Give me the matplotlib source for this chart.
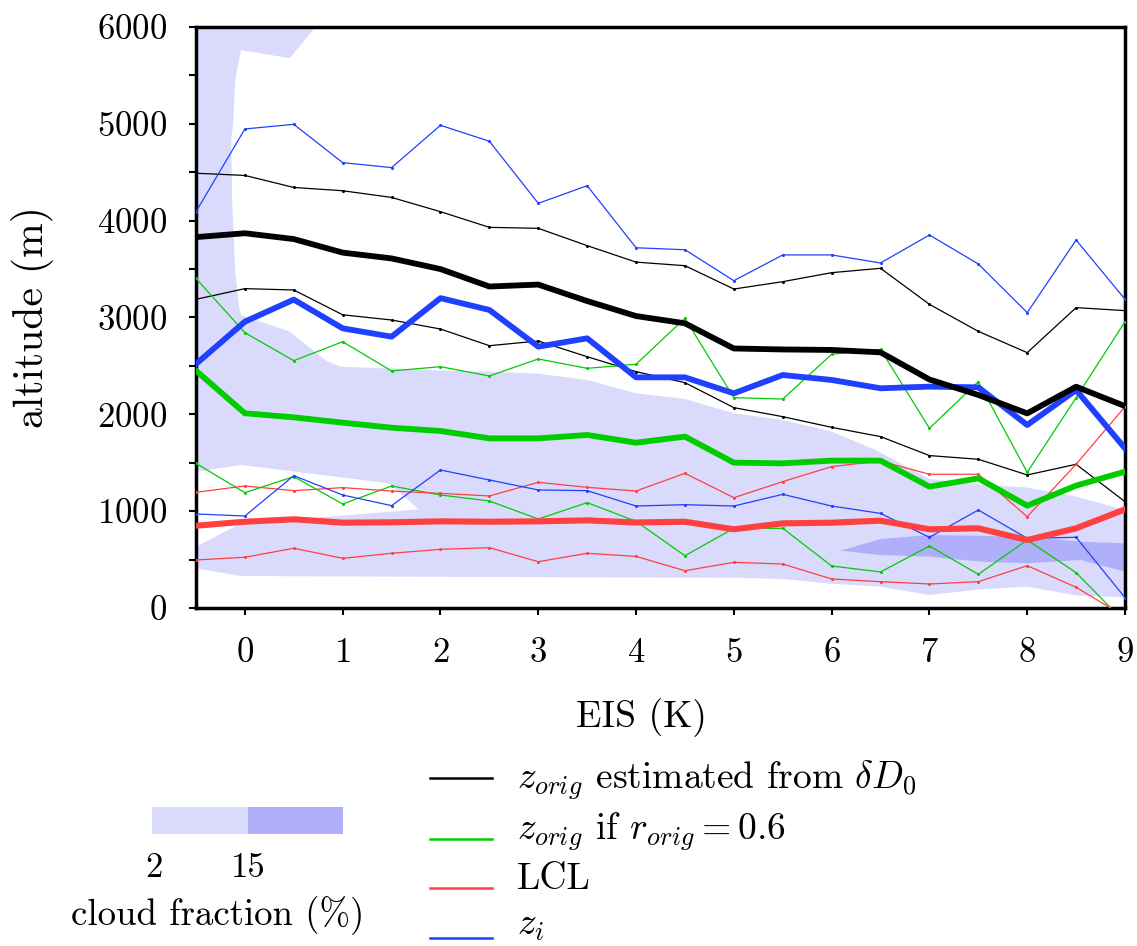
import matplotlib
matplotlib.use("Agg")
import matplotlib.pyplot as plt
from matplotlib.lines import Line2D
from matplotlib.patches import Rectangle
from matplotlib.ticker import MultipleLocator

plt.rcParams["font.family"] = ["cmr10", "DejaVu Serif"]
plt.rcParams["mathtext.fontset"] = "cm"
plt.rcParams["axes.formatter.use_mathtext"] = True

# EIS bins (K)
eis = [-0.5, 0, 0.5, 1, 1.5, 2, 2.5, 3, 3.5, 4, 4.5, 5, 5.5, 6, 6.5, 7, 7.5, 8, 8.5, 9]

# z_orig from dD0: mean, upper, lower (m)
z_orig = [3830, 3870, 3810, 3670, 3610, 3500, 3320, 3340, 3170, 3015, 2940, 2680, 2670,
          2665, 2640, 2360, 2200, 2010, 2285, 2085]
z_orig_hi = [4490, 4467, 4343, 4309, 4240, 4093, 3931, 3921, 3742, 3572, 3535, 3294, 3370,
             3463, 3508, 3136, 2857, 2637, 3102, 3071]
z_orig_lo = [3188, 3298, 3284, 3028, 2974, 2881, 2709, 2757, 2595, 2441, 2327, 2069, 1976,
             1866, 1770, 1574, 1536, 1374, 1484, 1098]

# z_orig if r_orig = 0.6
z_r06 = [2451, 2011, 1969, 1914, 1862, 1828, 1752, 1752, 1787, 1707, 1770, 1501, 1494,
         1522, 1522, 1253, 1339, 1057, 1264, 1408]
z_r06_hi = [3403, 2843, 2554, 2750, 2448, 2492, 2396, 2572, 2475, 2517, 2992, 2172, 2158,
            2620, 2671, 1856, 2337, 1401, 2172, 2957]
z_r06_lo = [1494, 1191, 1357, 1074, 1260, 1167, 1105, 919, 1088, 895, 540, 823, 823,
            434, 372, 640, 348, 702, 365, -150]

# LCL
lcl = [850, 891, 916, 881, 885, 895, 891, 895, 905, 883, 891, 813, 874, 881, 902, 813,
       823, 702, 823, 1019]
lcl_hi = [1195, 1260, 1212, 1243, 1208, 1184, 1157, 1298, 1246, 1208, 1391, 1139, 1305,
          1460, 1518, 1381, 1381, 943, 1484, 2079]
lcl_lo = [496, 524, 617, 513, 565, 606, 623, 478, 565, 533, 385, 472, 454, 300, 272, 248,
          272, 437, 214, -90]

# inversion height z_i
zi = [2520, 2957, 3185, 2888, 2802, 3200, 3078, 2699, 2785, 2382, 2382, 2217, 2406, 2355,
      2269, 2286, 2279, 1890, 2251, 1649]
zi_hi = [4093, 4947, 4995, 4599, 4548, 4985, 4820, 4179, 4361, 3720, 3700, 3380, 3646,
         3646, 3563, 3852, 3553, 3050, 3800, 3188]
zi_lo = [971, 950, 1367, 1167, 1057, 1425, 1322, 1219, 1212, 1053, 1067, 1053, 1174, 1053,
         977, 730, 1012, 720, 730, 107]

# cloud fraction contours (EIS, altitude)
cf2_x = [-0.5, 0.72, 0.46, -0.04, -0.1, -0.12, -0.14, -0.13, -0.1, -0.06, -0.04, 0.46,
         0.82, 0.97, 2.08, 2.5, 3.0, 3.5, 4, 4.5, 5, 5.5, 6, 6.45, 7, 7.5, 8, 8.5, 9,
         9, 8.5, 8, 7.5, 7, 6.5, 6, 5.5, 5, 4, -0.04, -0.5,
         -0.5, -0.04, 0.95, 1.78, 1.47, -0.04, -0.5]
cf2_z = [6000, 6000, 5677, 5763, 5450, 5000, 4830, 4200, 3500, 3100, 3026, 2854,
         2561, 2492, 2450, 2440, 2420, 2355, 2217, 2158, 2011, 1942, 1821, 1632, 1332,
         1277, 1243, 1150, 1012,
         110, 130, 220, 190, 134, 220, 250, 300, 313, 315, 330, 410,
         633, 874, 950, 1019, 1288, 1477, 1408]
cf15_x = [6.09, 6.5, 7.01, 8.0, 8.55, 9, 9, 8.55, 8.0, 7.53, 7.01, 6.5]
cf15_z = [592, 712, 754, 737, 685, 668, 375, 496, 462, 478, 530, 547]

LIGHT = "#dadafc"
DARK = "#b0b0fa"
BLACK = "black"
GREEN = "#00cc00"
RED = "#ff4040"
BLUE = "#2040ff"

fig = plt.figure(figsize=(11.37, 9.46), dpi=100)
ax = fig.add_axes([196 / 1137, 1 - 608 / 946, 929 / 1137, 581 / 946])

ax.fill(cf2_x, cf2_z, color=LIGHT, lw=0, zorder=1)
ax.fill(cf15_x, cf15_z, color=DARK, lw=0, zorder=1)

thin = dict(lw=0.9, marker="o", ms=1.2, zorder=3)
for c, hi, lo in [(BLACK, z_orig_hi, z_orig_lo), (GREEN, z_r06_hi, z_r06_lo),
                  (RED, lcl_hi, lcl_lo), (BLUE, zi_hi, zi_lo)]:
    ax.plot(eis, hi, color=c, **thin)
    ax.plot(eis, lo, color=c, **thin)

ax.plot(eis, z_r06, color=GREEN, lw=4.2, zorder=4)
ax.plot(eis, lcl, color=RED, lw=4.4, zorder=4)
ax.plot(eis, zi, color=BLUE, lw=4.2, zorder=5)
ax.plot(eis, z_orig, color=BLACK, lw=4.2, zorder=6)

ax.set_xlim(-0.5, 9)
ax.set_ylim(0, 6000)
ax.set_xticks(range(0, 10))
ax.yaxis.set_major_locator(MultipleLocator(1000))
ax.yaxis.set_minor_locator(MultipleLocator(500))
ax.tick_params(axis="both", which="both", direction="out", length=5, width=1.5,
               labelsize=25)
ax.tick_params(axis="x", pad=16)
ax.tick_params(axis="y", pad=16)
for s in ax.spines.values():
    s.set_linewidth(2.5)

ax.set_xlabel("EIS (K)", fontsize=27)
ax.xaxis.set_label_coords(0.48, -0.155)
ax.set_ylabel("altitude (m)", fontsize=30)
ax.yaxis.set_label_coords(-0.153, 0.5)

# legend, drawn by hand below the axes
labels = [r"$z_{orig}$ estimated from $\delta D_0$", r"$z_{orig}$ if $r_{orig}=0.6$",
          "LCL", r"$z_i$"]
colors = [BLACK, GREEN, RED, BLUE]
line_y = [778, 839, 888, 938]
text_y = [789, 840, 889, 935]
for lab, c, ly, ty in zip(labels, colors, line_y, text_y):
    fig.add_artist(Line2D([430 / 1137, 492 / 1137], [1 - ly / 946, 1 - ly / 946],
                          color=c, lw=1.8, transform=fig.transFigure))
    fig.text(517 / 1137, 1 - ty / 946, lab, fontsize=27, va="baseline", ha="left")

# cloud fraction key
fig.add_artist(Rectangle((152 / 1137, 1 - 834 / 946), 96 / 1137, 27 / 946,
                         color=LIGHT, lw=0, transform=fig.transFigure))
fig.add_artist(Rectangle((248 / 1137, 1 - 834 / 946), 95 / 1137, 27 / 946,
                         color=DARK, lw=0, transform=fig.transFigure))
fig.text(154 / 1137, 1 - 877 / 946, "2", fontsize=25, ha="center", va="baseline")
fig.text(248 / 1137, 1 - 877 / 946, "15", fontsize=25, ha="center", va="baseline")
fig.text(218 / 1137, 1 - 925 / 946, "cloud fraction (%)", fontsize=26.5, ha="center",
         va="baseline")

fig.savefig("out.png", dpi=100)
